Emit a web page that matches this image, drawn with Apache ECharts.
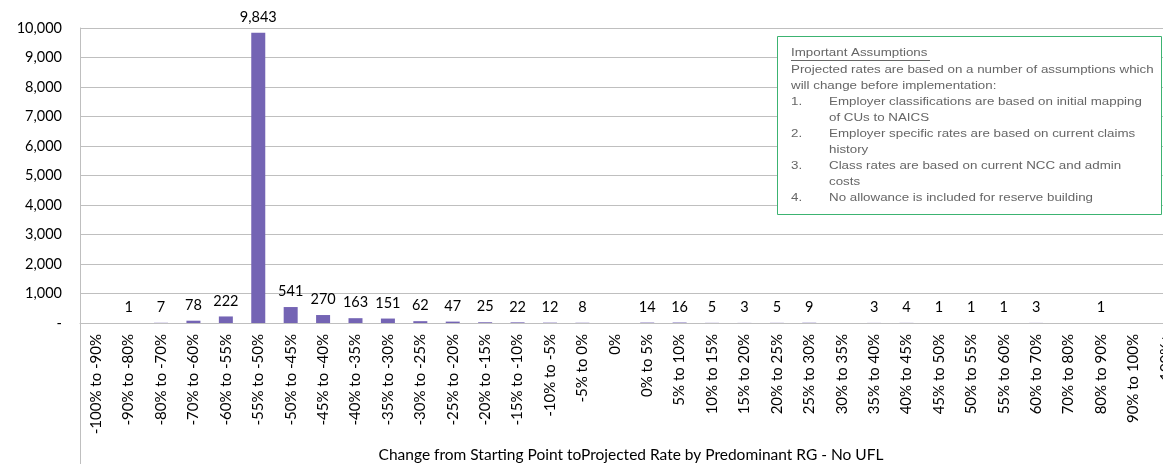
<!DOCTYPE html>
<html>
<head>
<meta charset="utf-8">
<script src="https://cdn.jsdelivr.net/npm/echarts@6/dist/echarts.min.js"></script>
<style>
  html, body { margin: 0; padding: 0; background: #fff; }
  #chart { width: 1163px; height: 464px; }
</style>
</head>
<body>
<div id="chart"></div>
<script>
// rate change buckets and employer counts (null = empty bucket)
var categories = [
  '-100% to -90%', '-90% to -80%', '-80% to -70%', '-70% to -60%', '-60% to -55%',
  '-55% to -50%', '-50% to -45%', '-45% to -40%', '-40% to -35%', '-35% to -30%',
  '-30% to -25%', '-25% to -20%', '-20% to -15%', '-15% to -10%', '-10% to -5%',
  '-5% to 0%', '0%', '0% to 5%', '5% to 10%', '10% to 15%', '15% to 20%',
  '20% to 25%', '25% to 30%', '30% to 35%', '35% to 40%', '40% to 45%',
  '45% to 50%', '50% to 55%', '55% to 60%', '60% to 70%', '70% to 80%',
  '80% to 90%', '90% to 100%', '100%+'
];
var counts = [
  null, 1, 7, 78, 222,
  9843, 541, 270, 163, 151,
  62, 47, 25, 22, 12,
  8, null, 14, 16, 5, 3,
  5, 9, null, 3, 4,
  1, 1, 1, 3, null,
  1, null, null
];
var yTicks = { min: 0, max: 10000, step: 1000 };
var xTitle = 'Change from Starting Point toProjected Rate by Predominant RG - No UFL';
var noteTitle = 'Important Assumptions';
var notes = [
  ['', 'Projected rates are based on a number of assumptions which'],
  ['', 'will change before implementation:'],
  ['1.', 'Employer classifications are based on initial mapping'],
  ['', 'of CUs to NAICS'],
  ['2.', 'Employer specific rates are based on current claims'],
  ['', 'history'],
  ['3.', 'Class rates are based on current NCC and admin'],
  ['', 'costs'],
  ['4.', 'No allowance is included for reserve building']
];

var font = 'Lato, "Open Sans", sans-serif';
var noteFont = '"Liberation Sans", Arial, sans-serif';

var myChart = echarts.init(document.getElementById('chart'));

// annotation box
function noteText(x, y, txt) {
  return {
    type: 'text', x: x, y: y, scaleX: 1.16, z: 101,
    style: { text: txt, font: '11.5px ' + noteFont, fill: '#666' }
  };
}
var boxEls = [{
  type: 'rect',
  shape: { x: 777.5, y: 36.5, width: 384, height: 178 },
  style: { fill: '#fff', stroke: '#3cb371', lineWidth: 1 },
  z: 100
}, noteText(791, 47, noteTitle), {
  type: 'line',
  shape: { x1: 791, y1: 60.5, x2: 930, y2: 60.5 },
  style: { stroke: '#666', lineWidth: 1 },
  z: 101
}];
for (var i = 0; i < notes.length; i++) {
  var ty = 64 + i * 16;
  if (notes[i][0]) boxEls.push(noteText(791, ty, notes[i][0]));
  boxEls.push(noteText(i > 1 ? 829 : 791, ty, notes[i][1]));
}
// left frame line continuing below the category axis
boxEls.push({
  type: 'line',
  shape: { x1: 80.5, y1: 323, x2: 80.5, y2: 464 },
  style: { stroke: '#bfbfbf', lineWidth: 1 }
});

var option = {
  animation: false,
  grid: { left: 80, right: -19, top: 28, bottom: 141, containLabel: false, outerBoundsMode: 'none' },
  xAxis: {
    type: 'category',
    data: categories,
    name: xTitle,
    nameLocation: 'middle',
    nameGap: 124,
    nameTextStyle: { fontFamily: font, fontSize: 15.5, color: '#000' },
    axisLine: { lineStyle: { color: '#bfbfbf' } },
    axisTick: { show: false },
    axisLabel: {
      interval: 0,
      rotate: 90,
      margin: 11,
      fontFamily: font,
      fontSize: 15,
      color: '#000'
    }
  },
  yAxis: {
    type: 'value',
    min: yTicks.min,
    max: yTicks.max,
    interval: yTicks.step,
    axisLine: { show: true, lineStyle: { color: '#bfbfbf' } },
    axisTick: { show: false },
    splitLine: { lineStyle: { color: '#bfbfbf' } },
    axisLabel: {
      margin: 18,
      fontFamily: font,
      fontSize: 14.5,
      color: '#000',
      formatter: function (v) {
        return v === 0 ? '-' : v.toLocaleString('en-US');
      }
    }
  },
  series: [{
    type: 'bar',
    data: counts,
    barWidth: 14,
    itemStyle: { color: '#7464b4' },
    label: {
      show: true,
      position: 'top',
      distance: 8,
      fontFamily: font,
      fontSize: 14.5,
      color: '#000',
      formatter: function (p) {
        return p.value == null ? '' : p.value.toLocaleString('en-US');
      }
    }
  }],
  graphic: boxEls
};
myChart.setOption(option);
</script>
</body>
</html>
